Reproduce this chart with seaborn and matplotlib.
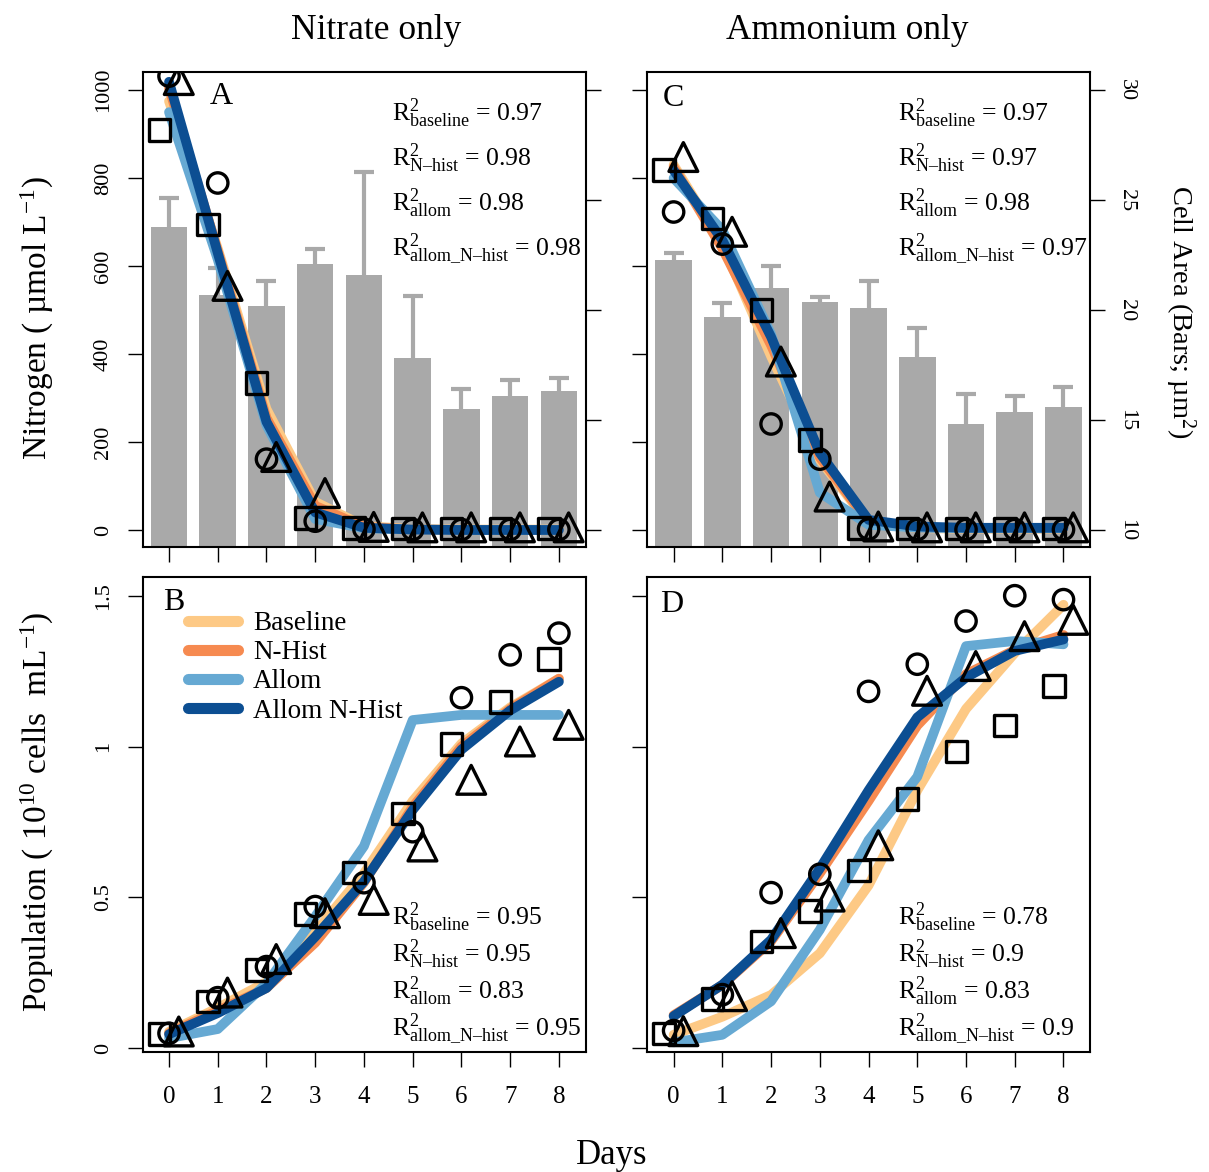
"""
Nitrogen drawdown, population growth and cell area - nitrate vs ammonium
Four panel figure: model fits (lines) over replicate observations (open symbols)
"""

import numpy as np
import pandas as pd
import matplotlib
matplotlib.use('Agg')
import matplotlib.pyplot as plt
import seaborn as sns

# ============================================================================
# DATA
# ============================================================================

days = np.arange(9)
models = ['Baseline', 'N-Hist', 'Allom', 'Allom N-Hist']
model_colors = ['#FDC985', '#F68A50', '#66A9D3', '#0C4E92']

# Nitrate only - nitrogen (umol L-1), model output
nitrate_N_baseline = [975, 640, 275, 64, 9, 2, 1, 1, 1]
nitrate_N_nhist = [1005, 635, 255, 55, 7, 1, 0, 0, 0]
nitrate_N_allom = [950, 615, 238, 25, 4, 1, 0, 0, 0]
nitrate_N_allom_nhist = [1019, 630, 246, 40, 5, 1, 0, 0, 0]
# observations, three replicates
nitrate_N_rep1 = [909, 695, 334, 27, 4, 3, 3, 3, 3]
nitrate_N_rep2 = [1032, 789, 161, 20, 2, 1, 1, 1, 1]
nitrate_N_rep3 = [1023, 555, 166, 84, 7, 6, 6, 6, 6]

# Ammonium only - nitrogen
ammonium_N_baseline = [830, 650, 395, 160, 15, 4, 3, 3, 3]
ammonium_N_nhist = [825, 640, 420, 165, 18, 5, 4, 4, 4]
ammonium_N_allom = [800, 682, 445, 85, 12, 5, 4, 4, 4]
ammonium_N_allom_nhist = [818, 659, 439, 175, 23, 8, 5, 5, 5]
ammonium_N_rep1 = [818, 708, 500, 205, 4, 3, 3, 3, 3]
ammonium_N_rep2 = [723, 650, 241, 161, 2, 1, 1, 1, 1]
ammonium_N_rep3 = [848, 678, 383, 76, 8, 6, 6, 6, 6]

# Cell area (um2), mean and upper error
nitrate_area = [23.8, 20.7, 20.2, 22.1, 21.6, 17.8, 15.5, 16.1, 16.3]
nitrate_area_err = [1.3, 1.2, 1.1, 0.7, 4.7, 2.85, 0.9, 0.7, 0.6]
ammonium_area = [22.3, 19.7, 21.0, 20.35, 20.1, 17.85, 14.8, 15.35, 15.6]
ammonium_area_err = [0.3, 0.6, 1.0, 0.25, 1.2, 1.35, 1.4, 0.75, 0.9]

# Nitrate only - population (1e10 cells mL-1)
nitrate_pop_baseline = [0.055, 0.134, 0.22, 0.385, 0.58, 0.82, 1.01, 1.13, 1.225]
nitrate_pop_nhist = [0.05, 0.125, 0.20, 0.35, 0.55, 0.80, 1.0, 1.125, 1.225]
nitrate_pop_allom = [0.034, 0.064, 0.215, 0.437, 0.67, 1.088, 1.105, 1.105, 1.105]
nitrate_pop_allom_nhist = [0.047, 0.117, 0.2, 0.37, 0.553, 0.79, 0.99, 1.12, 1.215]
nitrate_pop_rep1 = [0.047, 0.155, 0.26, 0.446, 0.583, 0.779, 1.008, 1.147, 1.29]
nitrate_pop_rep2 = [0.05, 0.168, 0.271, 0.47, 0.549, 0.718, 1.162, 1.304, 1.376]
nitrate_pop_rep3 = [0.056, 0.185, 0.296, 0.448, 0.492, 0.669, 0.89, 1.017, 1.072]

# Ammonium only - population
ammonium_pop_baseline = [0.045, 0.105, 0.177, 0.315, 0.54, 0.855, 1.125, 1.31, 1.47]
ammonium_pop_nhist = [0.11, 0.21, 0.355, 0.58, 0.82, 1.07, 1.24, 1.32, 1.37]
ammonium_pop_allom = [0.02, 0.045, 0.156, 0.393, 0.69, 0.9, 1.333, 1.35, 1.339]
ammonium_pop_allom_nhist = [0.107, 0.211, 0.36, 0.596, 0.855, 1.097, 1.229, 1.317, 1.355]
ammonium_pop_rep1 = [0.049, 0.164, 0.354, 0.456, 0.59, 0.827, 0.984, 1.07, 1.20]
ammonium_pop_rep2 = [0.059, 0.178, 0.516, 0.577, 1.183, 1.273, 1.416, 1.50, 1.487]
ammonium_pop_rep3 = [0.057, 0.173, 0.382, 0.503, 0.673, 1.185, 1.267, 1.366, 1.42]

# R2 of each model fit
r2_names = ['baseline', 'N\u2013hist', 'allom', 'allom\\_N\u2013hist']
r2_A = ['0.97', '0.98', '0.98', '0.98']
r2_B = ['0.95', '0.95', '0.83', '0.95']
r2_C = ['0.97', '0.97', '0.98', '0.97']
r2_D = ['0.78', '0.9', '0.83', '0.9']

# ============================================================================
# STYLE
# ============================================================================

sns.set_theme(style='ticks')
plt.rcParams['font.family'] = ['Liberation Serif', 'DejaVu Serif']
plt.rcParams['mathtext.fontset'] = 'custom'
plt.rcParams['mathtext.rm'] = 'Liberation Serif'
plt.rcParams['mathtext.default'] = 'regular'
for key in ['text.color', 'axes.labelcolor', 'xtick.color', 'ytick.color',
            'axes.edgecolor']:
    plt.rcParams[key] = 'black'

BAR_GREY = '#A9A9A9'
REP_MARKERS = [('s', 240, -0.2), ('o', 215, 0.0), ('^', 430, 0.2)]
XLIM = (-0.54, 8.55)
N_LIM = (-38, 1042)
AREA_LIM = (9.24, 30.84)
POP_LIM = (-0.011, 1.563)


def style_axis(ax, xlabels):
    for sp in ax.spines.values():
        sp.set_visible(True)
        sp.set_linewidth(1.5)
        sp.set_color('black')
    ax.set_xlim(*XLIM)
    ax.set_xticks(days)
    ax.tick_params(axis='both', direction='out', length=10.5, width=1.0,
                   color='black', labelcolor='black', pad=11)
    ax.tick_params(axis='x', labelsize=18, pad=14, labelbottom=xlabels)
    ax.set_xlabel('')
    ax.set_ylabel('')


def draw_models(ax, series, legend=False):
    df = pd.DataFrame({
        'day': np.tile(days, len(models)),
        'value': np.concatenate(series),
        'model': np.repeat(models, len(days)),
    })
    sns.lineplot(data=df, x='day', y='value', hue='model', hue_order=models,
                 palette=model_colors, linewidth=7, solid_capstyle='round',
                 estimator=None, errorbar=None, legend=legend, ax=ax)


def draw_reps(ax, reps):
    for vals, (marker, size, offset) in zip(reps, REP_MARKERS):
        sns.scatterplot(x=days + offset, y=vals, marker=marker, s=size,
                        facecolors='none', edgecolor='black', linewidth=2.4,
                        zorder=3, legend=False, ax=ax)


def draw_bars(ax, area, err, right_labels):
    ax2 = ax.twinx()
    sns.barplot(x=days, y=area, native_scale=True, width=0.75, color=BAR_GREY,
                saturation=1, errorbar=None, linewidth=0, ax=ax2)
    eb = ax2.errorbar(days, area, yerr=[np.zeros(len(days)), err], fmt='none',
                      ecolor=BAR_GREY, elinewidth=3, capsize=7.5, capthick=3)
    # upward error only: hide the cap sitting on the bar top
    eb[1][0].set_visible(False)
    ax2.set_ylim(*AREA_LIM)
    ax2.set_yticks([10, 15, 20, 25, 30])
    ax2.tick_params(axis='y', direction='out', length=10.5, width=1.0,
                    color='black', labelcolor='black', pad=9, labelsize=16,
                    labelright=right_labels, labelrotation=-90)
    plt.setp(ax2.get_yticklabels(), va='center')
    ax2.set_ylabel('')
    ax2.set_xlabel('')
    ax.set_zorder(ax2.get_zorder() + 1)
    ax.patch.set_visible(False)
    return ax2


def r2_block(ax, values, x, y0, step):
    for i, (name, v) in enumerate(zip(r2_names, values)):
        ax.text(x, y0 - i * step, 'R$^2_{' + name + '}$ = ' + v,
                transform=ax.transAxes, fontsize=18.5, ha='left', va='baseline')


# ============================================================================
# FIGURE
# ============================================================================

fig = plt.figure(figsize=(12.09, 11.72), dpi=100)
W, H = 443 / 1209, 475 / 1172
axA = fig.add_axes([142.7 / 1209, 1 - 546.7 / 1172, W, H])
axC = fig.add_axes([647.3 / 1209, 1 - 546.7 / 1172, W, H])
axB = fig.add_axes([142.7 / 1209, 1 - 1051.7 / 1172, W, H])
axD = fig.add_axes([647.3 / 1209, 1 - 1051.7 / 1172, W, H])

# --- A: nitrate, nitrogen + cell area
draw_bars(axA, nitrate_area, nitrate_area_err, right_labels=False)
draw_models(axA, [nitrate_N_baseline, nitrate_N_nhist, nitrate_N_allom, nitrate_N_allom_nhist])
draw_reps(axA, [nitrate_N_rep1, nitrate_N_rep2, nitrate_N_rep3])
style_axis(axA, xlabels=False)
axA.set_ylim(*N_LIM)
axA.set_yticks([0, 200, 400, 600, 800, 1000])
axA.tick_params(axis='y', labelsize=16, labelrotation=90)
plt.setp(axA.get_yticklabels(), va='center')
r2_block(axA, r2_A, 0.562, 0.897, 0.0945)
axA.text(0.152, 0.933, 'A', transform=axA.transAxes, fontsize=23, va='baseline')

# --- C: ammonium, nitrogen + cell area
draw_bars(axC, ammonium_area, ammonium_area_err, right_labels=True)
draw_models(axC, [ammonium_N_baseline, ammonium_N_nhist, ammonium_N_allom, ammonium_N_allom_nhist])
draw_reps(axC, [ammonium_N_rep1, ammonium_N_rep2, ammonium_N_rep3])
style_axis(axC, xlabels=False)
axC.set_ylim(*N_LIM)
axC.set_yticks([0, 200, 400, 600, 800, 1000])
axC.tick_params(axis='y', labelleft=False)
r2_block(axC, r2_C, 0.567, 0.897, 0.0945)
axC.text(0.034, 0.928, 'C', transform=axC.transAxes, fontsize=23, va='baseline')

# --- B: nitrate, population
draw_models(axB, [nitrate_pop_baseline, nitrate_pop_nhist, nitrate_pop_allom, nitrate_pop_allom_nhist],
            legend=True)
draw_reps(axB, [nitrate_pop_rep1, nitrate_pop_rep2, nitrate_pop_rep3])
style_axis(axB, xlabels=True)
axB.set_ylim(*POP_LIM)
axB.set_yticks([0, 0.5, 1, 1.5])
axB.set_yticklabels(['0', '0.5', '1', '1.5'])
axB.tick_params(axis='y', labelsize=16, labelrotation=90)
plt.setp(axB.get_yticklabels(), va='center')
r2_block(axB, r2_B, 0.562, 0.267, 0.0775)
axB.text(0.046, 0.930, 'B', transform=axB.transAxes, fontsize=23, va='baseline')
handles, labels = axB.get_legend_handles_labels()
leg = axB.legend(handles, labels, loc='upper left', bbox_to_anchor=(0.102, 0.927),
                 frameon=False, fontsize=19.5, handlelength=1.85, handletextpad=0.55,
                 labelspacing=0.15, borderpad=0, borderaxespad=0)
for line in leg.get_lines():
    line.set_linewidth(8)
    line.set_solid_capstyle('round')

# --- D: ammonium, population
draw_models(axD, [ammonium_pop_baseline, ammonium_pop_nhist, ammonium_pop_allom, ammonium_pop_allom_nhist])
draw_reps(axD, [ammonium_pop_rep1, ammonium_pop_rep2, ammonium_pop_rep3])
style_axis(axD, xlabels=True)
axD.set_ylim(*POP_LIM)
axD.set_yticks([0, 0.5, 1, 1.5])
axD.tick_params(axis='y', labelleft=False)
r2_block(axD, r2_D, 0.567, 0.267, 0.0775)
axD.text(0.029, 0.925, 'D', transform=axD.transAxes, fontsize=23, va='baseline')

# --- outer labels
fig.text(376.5 / 1209, 1 - 39 / 1172, 'Nitrate only', fontsize=25.5, ha='center', va='baseline')
fig.text(847 / 1209, 1 - 39 / 1172, 'Ammonium only', fontsize=25.5, ha='center', va='baseline')
fig.text(612 / 1209, 1 - 1164 / 1172, 'Days', fontsize=25, ha='center', va='baseline')
fig.text(37 / 1209, 1 - 318 / 1172, 'Nitrogen ( \u00b5mol L$^{-1}$)', fontsize=24,
         rotation=90, ha='center', va='center')
fig.text(37 / 1209, 1 - 812 / 1172, 'Population ( 10$^{10}$ cells  mL$^{-1}$)', fontsize=24,
         rotation=90, ha='center', va='center')
fig.text(1180 / 1209, 1 - 312 / 1172, 'Cell Area (Bars; \u00b5m$^2$)', fontsize=20.5,
         rotation=-90, ha='center', va='center')

fig.savefig('out.png', dpi=100)
plt.close(fig)
